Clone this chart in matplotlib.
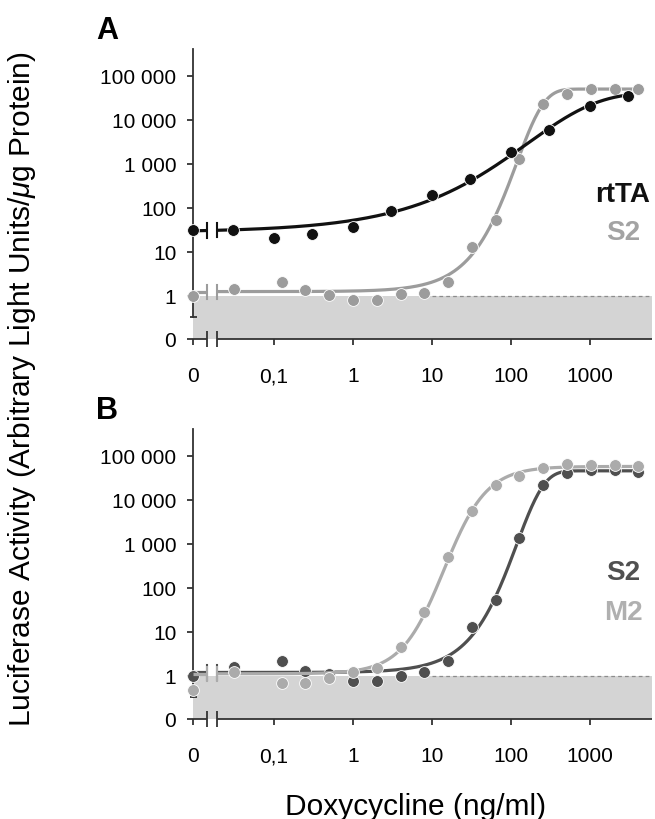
import numpy as np
import matplotlib
matplotlib.use('Agg')
import matplotlib.pyplot as plt
from matplotlib.ticker import NullLocator, FixedLocator, FixedFormatter

plt.rcParams['font.family'] = ['Liberation Sans', 'DejaVu Sans']
plt.rcParams['mathtext.fontset'] = 'custom'
plt.rcParams['mathtext.it'] = 'Liberation Sans:italic'
plt.rcParams['mathtext.rm'] = 'Liberation Sans'

# ---------------- data ----------------
dose_rtta = [0, 0.03, 0.1, 0.3, 1, 3, 10, 30, 100, 300, 1000, 3000]
luc_rtta = [32, 32, 21, 26, 36, 87, 198, 456, 1820, 6000, 20400, 34600]

dose_s2 = [0, 0.031, 0.125, 0.25, 0.5, 1, 2, 4, 8, 16, 32, 64, 128, 256,
           512, 1024, 2048, 4096]
luc_s2_a = [1.0, 1.44, 2.1, 1.37, 1.07, 0.81, 0.81, 1.09, 1.2, 2.1, 12.8,
            54, 1300, 22800, 39000, 50000, 50000, 50000]
luc_s2_b = [1.0, 1.58, 2.2, 1.32, 1.1, 0.78, 0.78, 1.0, 1.25, 2.2, 12.7,
            54, 1350, 22000, 41000, 46500, 46500, 44000]
dose_m2 = dose_s2
luc_m2 = [0.48, 1.25, 0.68, 0.68, 0.89, 1.21, 1.52, 4.6, 29, 515, 5700,
          22000, 35700, 53000, 66000, 63000, 63000, 59000]

x_tick_values = [0, 0.1, 1, 10, 100, 1000]
x_tick_labels = ['0', '0,1', '1', '10', '100', '1000']
y_tick_values = [0, 1, 10, 100, 1000, 10000, 100000]
y_tick_labels = ['0', '1', '10', '100', '1 000', '10 000', '100 000']

# fitted dose-response curves, parameters in log10 units
# (bottom, top, centre, steepness)
fit_rtta = (1.45, 4.62, 2.2, 1.1)     # asymmetric (Gompertz type)
fit_s2_a = (0.10, 4.70, 2.07, 2.84)   # asymmetric (Gompertz type)
fit_s2_b = (0.08, 4.66, 2.07, 2.84)   # asymmetric (Gompertz type)
fit_m2 = (0.05, 4.76, 1.15, 1.6)      # logistic

# ---------------- layout constants ----------------
X_ZERO = 10 ** -2.025      # where dose 0 is drawn on the broken log axis
XB1, XB2 = 10 ** -1.848, 10 ** -1.722   # axis break marks
XMAX = 10 ** 3.785
Y_ZERO = 10 ** -0.977      # where value 0 is drawn on the broken log axis
Y_CAP = 10 ** -0.477
YMAX = 10 ** 5.61

W, H = 655, 820
AX_COLOR = '#333333'
SHADE = '#d4d4d4'


def logistic(u, p):
    a, b, c, d = p
    return a + (b - a) / (1 + 10 ** ((c - u) * d))


def gompertz(u, p):
    a, b, m, k = p
    return a + (b - a) * (1 - np.exp(-np.exp(k * (u - m))))


def xpos(d):
    return d if d > 0 else X_ZERO


def ypos(v):
    return v if v > 0 else Y_ZERO


def setup_axes(ax):
    ax.set_xscale('log')
    ax.set_yscale('log')
    ax.set_xlim(X_ZERO, XMAX)
    ax.set_ylim(Y_ZERO, YMAX)
    for s in ('top', 'right', 'bottom'):
        ax.spines[s].set_visible(False)
    ax.spines['left'].set_bounds(Y_CAP, YMAX)
    ax.spines['left'].set_color(AX_COLOR)
    ax.spines['left'].set_linewidth(1.3)
    ax.xaxis.set_major_locator(FixedLocator([xpos(v) for v in x_tick_values]))
    ax.xaxis.set_major_formatter(FixedFormatter(x_tick_labels))
    ax.yaxis.set_major_locator(FixedLocator([ypos(v) for v in y_tick_values]))
    ax.yaxis.set_major_formatter(FixedFormatter(y_tick_labels))
    ax.xaxis.set_minor_locator(NullLocator())
    ax.yaxis.set_minor_locator(NullLocator())
    ax.tick_params(axis='y', direction='out', length=4, width=1.3,
                   color=AX_COLOR, labelsize=15, pad=8)
    ax.tick_params(axis='x', direction='out', length=4, width=1.3,
                   color=AX_COLOR, labelsize=15, pad=15.5)
    ax.patch.set_alpha(0)
    # shaded background region below 1 and threshold line
    ax.fill_between([X_ZERO, XMAX], Y_ZERO, 1, color=SHADE, lw=0, zorder=0)
    ax.plot([10, XMAX], [1, 1], color='#8c8c8c', lw=0.9, ls=(0, (3, 2.5)),
            zorder=1)
    # broken x axis
    kw = dict(color=AX_COLOR, lw=1.3, clip_on=False, zorder=3,
              solid_capstyle='butt')
    ax.plot([X_ZERO, XB1], [Y_ZERO, Y_ZERO], **kw)
    ax.plot([XB2, XMAX], [Y_ZERO, Y_ZERO], **kw)
    for xb in (XB1, XB2):
        ax.plot([xb, xb], [Y_ZERO * 10 ** -0.18, Y_ZERO * 10 ** 0.18], **kw)
    # end cap of the broken y axis
    ax.plot([X_ZERO * 10 ** -0.04, X_ZERO * 10 ** 0.05], [Y_CAP, Y_CAP], **kw)


def draw_series(ax, doses, vals, fn, params, color, z):
    last = max(doses)
    for lo, hi in ((X_ZERO, XB1), (XB2, last)):
        u = np.linspace(np.log10(lo), np.log10(hi), 400)
        ax.plot(10 ** u, 10 ** fn(u, params), color=color, lw=2.3, zorder=z,
                solid_capstyle='butt', clip_on=False)
    for xb in (XB1, XB2):
        yc = 10 ** fn(np.log10(xb), params)
        ax.plot([xb, xb], [yc * 10 ** -0.16, yc * 10 ** 0.16], color=color,
                lw=1.5, zorder=z, clip_on=False)
    ax.plot([xpos(d) for d in doses], [ypos(v) for v in vals], 'o', ms=8.5,
            color=color, mec='white', mew=0.6, zorder=z + 1, clip_on=False)


fig = plt.figure(figsize=(W / 100, H / 100), dpi=100)
fig.patch.set_facecolor('white')

ax_a = fig.add_axes([193 / W, 1 - 340 / H, (652 - 193) / W, 290 / H])
ax_b = fig.add_axes([193 / W, 1 - 720 / H, (652 - 193) / W, 290 / H])
setup_axes(ax_a)
setup_axes(ax_b)

# Panel A
c_rtta, c_s2a = '#111111', '#9c9c9c'
draw_series(ax_a, dose_s2, luc_s2_a, gompertz, fit_s2_a, c_s2a, 4)
draw_series(ax_a, dose_rtta, luc_rtta, gompertz, fit_rtta, c_rtta, 6)

# Panel B
c_s2b, c_m2 = '#4f4f4f', '#ababab'
draw_series(ax_b, dose_s2, luc_s2_b, gompertz, fit_s2_b, c_s2b, 4)
draw_series(ax_b, dose_m2, luc_m2, logistic, fit_m2, c_m2, 6)

# series labels
fig.text(623 / W, 1 - 195 / H, 'rtTA', color=c_rtta, fontsize=20,
         fontweight='bold', ha='center', va='center')
fig.text(623 / W, 1 - 233 / H, 'S2', color='#a3a3a3', fontsize=20,
         fontweight='bold', ha='center', va='center')
fig.text(623 / W, 1 - 573 / H, 'S2', color='#505050', fontsize=20,
         fontweight='bold', ha='center', va='center')
fig.text(623 / W, 1 - 613 / H, 'M2', color='#b0b0b0', fontsize=20,
         fontweight='bold', ha='center', va='center')

# panel letters
fig.text(96 / W, 1 - 31 / H, 'A', fontsize=22, fontweight='bold',
         ha='left', va='center')
fig.text(96 / W, 1 - 411 / H, 'B', fontsize=22, fontweight='bold',
         ha='left', va='center')

# axis titles
fig.text(416 / W, 1 - 815 / H, 'Doxycycline (ng/ml)', fontsize=21.5,
         ha='center', va='baseline')
fig.text(22 / W, 1 - 389 / H,
         'Luciferase Activity (Arbitrary Light Units/$\\mathit{\\mu}$g Protein)',
         fontsize=21.5, rotation=90, ha='center', va='center')

fig.savefig('out.png', dpi=100, facecolor='white')
